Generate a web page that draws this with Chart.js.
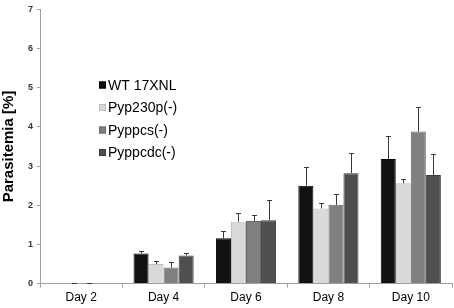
<!DOCTYPE html>
<html>
<head>
<meta charset="utf-8">
<script src="https://cdn.jsdelivr.net/npm/chart.js@4"></script>
<style>
  html, body { margin: 0; padding: 0; background: #fff; }
  #wrap { width: 454px; height: 308px; position: relative; }
</style>
</head>
<body>
<div id="wrap"><canvas id="chart"></canvas></div>
<script>
// data
const days = ['Day 2', 'Day 4', 'Day 6', 'Day 8', 'Day 10'];
const seriesNames = ['WT 17XNL', 'Pyp230p(-)', 'Pyppcs(-)', 'Pyppcdc(-)'];
const wt = [0, 0.77, 1.16, 2.50, 3.18];
const p230 = [0.01, 0.50, 1.58, 1.92, 2.56];
const ppcs = [0.01, 0.41, 1.60, 2.01, 3.88];
const ppcdc = [0, 0.72, 1.62, 2.82, 2.77];
// upper error (SD) for each series
const wtErr = [0, 0.06, 0.19, 0.47, 0.59];
const p230Err = [0.01, 0.07, 0.23, 0.14, 0.12];
const ppcsErr = [0.01, 0.13, 0.15, 0.29, 0.64];
const ppcdcErr = [0, 0.06, 0.51, 0.51, 0.55];
const yTicks = [0, 1, 2, 3, 4, 5, 6, 7];

const colors = ['#111111', '#d9d9d9', '#808080', '#4f4f4f'];
const borders = ['#000000', '#bdbdbd', '#6a6a6a', '#3c3c3c'];
const values = [wt, p230, ppcs, ppcdc];
const errors = [wtErr, p230Err, ppcsErr, ppcdcErr];

// error bars (upper only) drawn through the chart's scales
const errorBars = {
  id: 'errorBars',
  afterDatasetsDraw(chart) {
    const ctx = chart.ctx;
    const y = chart.scales.y;
    ctx.save();
    ctx.strokeStyle = '#3a3a3a';
    ctx.lineWidth = 1;
    chart.data.datasets.forEach((ds, i) => {
      const meta = chart.getDatasetMeta(i);
      meta.data.forEach((bar, j) => {
        const e = errors[i][j];
        if (!e) return;
        const x = Math.round(bar.x) + 0.5;
        const y0 = y.getPixelForValue(ds.data[j]);
        const y1 = Math.round(y.getPixelForValue(ds.data[j] + e)) + 0.5;
        ctx.beginPath();
        ctx.moveTo(x, y0);
        ctx.lineTo(x, y1);
        ctx.moveTo(x - 2.5, y1);
        ctx.lineTo(x + 2.5, y1);
        ctx.stroke();
      });
    });
    ctx.restore();
  }
};

// legend placed inside the plot like the original
const innerLegend = {
  id: 'innerLegend',
  afterDraw(chart) {
    const ctx = chart.ctx;
    ctx.save();
    ctx.font = '14px "Liberation Sans", Arial, sans-serif';
    ctx.textBaseline = 'middle';
    chart.data.datasets.forEach((ds, i) => {
      const cy = 85 + i * 22.5;
      ctx.fillStyle = ds.backgroundColor;
      ctx.fillRect(99, cy - 3.5, 7, 7);
      ctx.strokeStyle = ds.borderColor;
      ctx.strokeRect(99.5, cy - 3, 6, 6);
      ctx.fillStyle = '#000';
      ctx.fillText(ds.label, 108, cy + 1);
    });
    ctx.restore();
  }
};

new Chart(document.getElementById('chart'), {
  type: 'bar',
  data: {
    labels: days,
    datasets: seriesNames.map((name, i) => ({
      label: name,
      data: values[i],
      backgroundColor: colors[i],
      borderColor: borders[i],
      borderWidth: 1,
      barPercentage: 1.0,
      categoryPercentage: 0.73
    }))
  },
  options: {
    responsive: true,
    maintainAspectRatio: false,
    animation: false,
    layout: { padding: { top: 5, right: 2, left: 0, bottom: 0 } },
    plugins: {
      legend: { display: false },
      tooltip: { enabled: false }
    },
    scales: {
      x: {
        grid: { drawOnChartArea: false, drawTicks: true, tickLength: 4, color: '#a0a0a0', offset: true },
        border: { color: '#a0a0a0' },
        ticks: { color: '#000', padding: 3, font: { family: '"Liberation Sans", Arial, sans-serif', size: 12 } }
      },
      y: {
        min: 0,
        max: 7,
        afterBuildTicks: s => { s.ticks = yTicks.map(v => ({ value: v })); },
        afterFit: s => { s.width = 40; },
        grid: { drawOnChartArea: false, drawTicks: true, tickLength: 3, color: '#a0a0a0' },
        border: { color: '#a0a0a0' },
        ticks: { color: '#333', padding: 4, font: { family: '"Liberation Sans", Arial, sans-serif', size: 9, weight: 'bold' } },
        title: {
          display: true,
          text: 'Parasitemia [%]',
          color: '#000',
          padding: { top: 0, bottom: 4 },
          font: { family: '"Liberation Sans", Arial, sans-serif', size: 15, weight: 'bold' }
        }
      }
    }
  },
  plugins: [errorBars, innerLegend]
});
</script>
</body>
</html>
